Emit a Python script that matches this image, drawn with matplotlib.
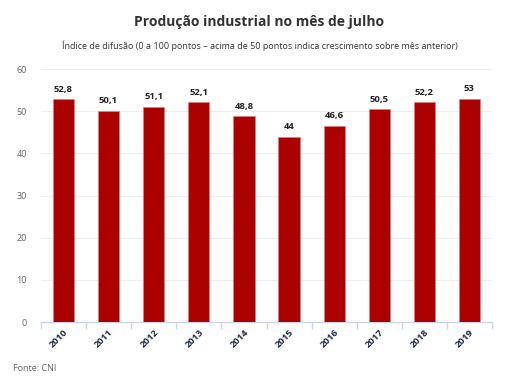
import matplotlib.pyplot as plt
import numpy as np

anos = ['2010', '2011', '2012', '2013', '2014', '2015', '2016', '2017', '2018', '2019']
valores = [52.8, 50.1, 51.1, 52.1, 48.8, 44.0, 46.6, 50.5, 52.2, 53.0]
rotulos = ['52,8', '50,1', '51,1', '52,1', '48,8', '44', '46,6', '50,5', '52,2', '53']
yticks = [0, 10, 20, 30, 40, 50, 60]

plt.rcParams['font.family'] = ['Open Sans', 'DejaVu Sans']

fig = plt.figure(figsize=(5.19, 3.82), dpi=100)
ax = fig.add_axes([0.079, 0.157, 0.869, 0.662])

x = np.arange(len(anos))
ax.bar(x, valores, width=0.47, color='#aa0000', edgecolor='#e08080', linewidth=0.6, zorder=3)

for xi, v, r in zip(x, valores, rotulos):
    ax.text(xi, v + 1.3, r, ha='center', va='bottom', fontsize=6.8,
            fontweight='bold', color='#222222')

ax.set_xlim(-0.5, len(anos) - 0.5)
ax.set_ylim(0, 60)
ax.set_yticks(yticks)
ax.set_yticklabels([str(t) for t in yticks], fontsize=6.5, color='#666666')
ax.set_xticks(x)
ax.set_xticklabels(anos, rotation=45, fontsize=6.8, fontweight='bold', color='#1f2a44',
                   ha='right', rotation_mode='anchor')
ax.tick_params(axis='x', length=0, pad=4)
ax.tick_params(axis='y', length=0, pad=10)
ax.set_xticks(np.arange(-0.5, len(anos)), minor=True)
ax.tick_params(axis='x', which='minor', length=5, color='#ccd6eb', width=1)

ax.grid(axis='y', color='#eeeeee', linewidth=0.8, zorder=0)
for s in ['top', 'right', 'left']:
    ax.spines[s].set_visible(False)
ax.spines['bottom'].set_color('#ccd6eb')
ax.spines['bottom'].set_linewidth(1)

fig.text(0.5, 0.942, 'Produção industrial no mês de julho', ha='center', va='center',
         fontsize=10, fontweight='bold', color='#333333')
fig.text(0.5, 0.88, 'Índice de difusão (0 a 100 pontos – acima de 50 pontos indica crescimento sobre mês anterior)',
         ha='center', va='center', fontsize=6.5, color='#333333')
fig.text(0.025, 0.035, 'Fonte: CNI', ha='left', va='center', fontsize=6.5, color='#666666')

fig.savefig('out.png', dpi=100)
